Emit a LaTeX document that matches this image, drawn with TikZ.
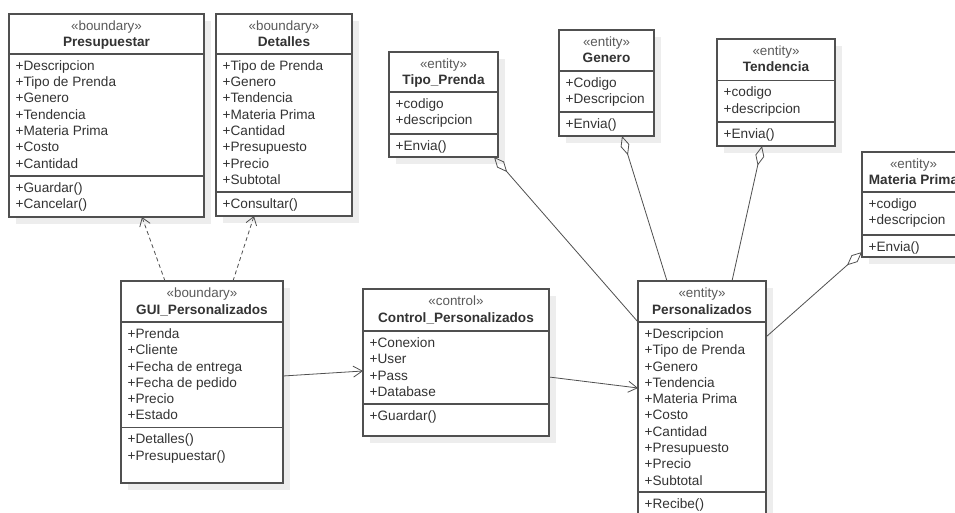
\documentclass[tikz,border=0pt]{standalone}
\usepackage{fontspec}
\setmainfont{Liberation Sans}
\usetikzlibrary{arrows.meta,calc}
\definecolor{linec}{HTML}{505050}
\definecolor{txtc}{HTML}{333333}
\definecolor{stc}{HTML}{5A5A5A}
\definecolor{shadowc}{HTML}{EDEDED}
\tikzset{
  classbox/.style={draw=linec, line width=1.2pt, fill=white, rectangle, inner sep=0pt, outer sep=0pt},
  divline/.style={draw=linec, line width=1.1pt},
  stereo/.style={text=stc, font=\fontsize{13.4}{16}\selectfont, inner sep=0pt},
  cname/.style={text=txtc, font=\fontsize{13.6}{16}\selectfont\bfseries, inner sep=0pt},
  attr/.style={text=txtc, font=\fontsize{13.6}{16}\selectfont, inner sep=0pt},
  conn/.style={draw=linec, line width=0.8pt},
  dep/.style={conn, dash pattern=on 4pt off 3pt, -{Straight Barb[length=8pt,width=11pt]}},
  nav/.style={conn, -{Straight Barb[length=9pt,width=11pt]}},
  agg/.style={conn, {Diamond[open,length=20pt,width=9pt,line width=0.8pt]}-},
}
% #1 id, #2 left, #3 top, #4 right, #5 bottom, #6 div1, #7 div2
\newcommand\umlbox[7]{%
  \fill[shadowc] (#2+7,#3+7) rectangle (#4+7,#5+7);
  \node[classbox, minimum width={#4pt-#2pt}, minimum height={#5pt-#3pt}, anchor=north west] (#1) at (#2,#3) {};
  \draw[divline] (#2,#6) -- (#4,#6);
  \draw[divline] (#2,#7) -- (#4,#7);
}
% #1 id, #2 stereotype, #3 name
\newcommand\umlhead[3]{%
  \node[stereo, anchor=base] (#1-st) at ($(#1.north)+(0,16.4)$) {#2};
  \node[cname, anchor=base] (#1-nm) at ($(#1.north)+(0,33)$) {#3};
}
% #1 id, #2 left, #3 divider y, #4 list, #5 suffix
\newcommand\umllines[5]{%
  \foreach \t [count=\i from 0] in {#4}
    \node[attr, anchor=base west] (#1-#5\i) at (#2+6.5, #3+16.4+\i*16.3) {\t};
}
\begin{document}
\begin{tikzpicture}[x=1pt, y=-1pt]
\clip (0,0) rectangle (955,513);
\fill[white] (0,0) rectangle (955,513);

% Presupuestar
\umlbox{pres}{9}{14}{204}{217}{54}{176}
\umlhead{pres}{«boundary»}{Presupuestar}
\umllines{pres}{9}{54}{+Descripcion,+Tipo de Prenda,+Genero,+Tendencia,+Materia Prima,+Costo,+Cantidad}{a}
\umllines{pres}{9}{176}{+Guardar(),+Cancelar()}{o}

% Detalles
\umlbox{det}{216}{14}{352}{216}{54}{192}
\umlhead{det}{«boundary»}{Detalles}
\umllines{det}{216}{54}{+Tipo de Prenda,+Genero,+Tendencia,+Materia Prima,+Cantidad,+Presupuesto,+Precio,+Subtotal}{a}
\umllines{det}{216}{192}{+Consultar()}{o}

% GUI_Personalizados
\umlbox{gui}{121}{281}{283}{483}{322}{427.5}
\umlhead{gui}{«boundary»}{GUI\_Personalizados}
\umllines{gui}{121}{322}{+Prenda,+Cliente,+Fecha de entrega,+Fecha de pedido,+Precio,+Estado}{a}
\umllines{gui}{121}{427.5}{+Detalles(),+Presupuestar()}{o}

% Control_Personalizados
\umlbox{ctrl}{363}{289}{549}{436}{331}{404}
\umlhead{ctrl}{«control»}{Control\_Personalizados}
\umllines{ctrl}{363}{331}{+Conexion,+User,+Pass,+Database}{a}
\umllines{ctrl}{363}{404}{+Guardar()}{o}

% Tipo_Prenda
\umlbox{tipo}{389}{52}{498}{157}{92}{134}
\umlhead{tipo}{«entity»}{Tipo\_Prenda}
\umllines{tipo}{389}{92}{+codigo,+descripcion}{a}
\umllines{tipo}{389}{134}{+Envia()}{o}

% Genero
\umlbox{gen}{559}{30}{654}{136}{71}{112}
\umlhead{gen}{«entity»}{Genero}
\umllines{gen}{559}{71}{+Codigo,+Descripcion}{a}
\umllines{gen}{559}{112}{+Envia()}{o}

% Tendencia
\umlbox{ten}{717}{39}{835}{146}{80.5}{122}
\umlhead{ten}{«entity»}{Tendencia}
\umllines{ten}{717}{80.5}{+codigo,+descripcion}{a}
\umllines{ten}{717}{122}{+Envia()}{o}

% Materia Prima
\umlbox{mat}{862}{152}{965}{257}{192}{235}
\umlhead{mat}{«entity»}{Materia Prima}
\umllines{mat}{862}{192}{+codigo,+descripcion}{a}
\umllines{mat}{862}{235}{+Envia()}{o}

% Personalizados
\umlbox{pers}{638}{281}{766}{540}{322}{492}
\umlhead{pers}{«entity»}{Personalizados}
\umllines{pers}{638}{322}{+Descripcion,+Tipo de Prenda,+Genero,+Tendencia,+Materia Prima,+Costo,+Cantidad,+Presupuesto,+Precio,+Subtotal}{a}
\umllines{pers}{638}{492}{+Recibe()}{o}

% connectors
\draw[dep] ([xshift=44pt]gui.north west) -- ([xshift=133pt]pres.south west);
\draw[dep] ([xshift=112pt]gui.north west) -- ([xshift=38pt]det.south west);
\draw[nav] ([yshift=-95pt]gui.north east) -- ([yshift=-82pt]ctrl.north west);
\draw[nav] ([yshift=-88pt]ctrl.north east) -- ([yshift=-107pt]pers.north west);
\draw[agg] ([xshift=-4pt]tipo.south east) -- ([yshift=-41pt]pers.north west);
\draw[agg] ([xshift=63pt]gen.south west) -- ([xshift=29pt]pers.north west);
\draw[agg] ([xshift=45pt]ten.south west) -- ([xshift=94pt]pers.north west);
\draw[agg] ([yshift=5pt]mat.south west) -- ([yshift=-56pt]pers.north east);
\end{tikzpicture}
\end{document}
